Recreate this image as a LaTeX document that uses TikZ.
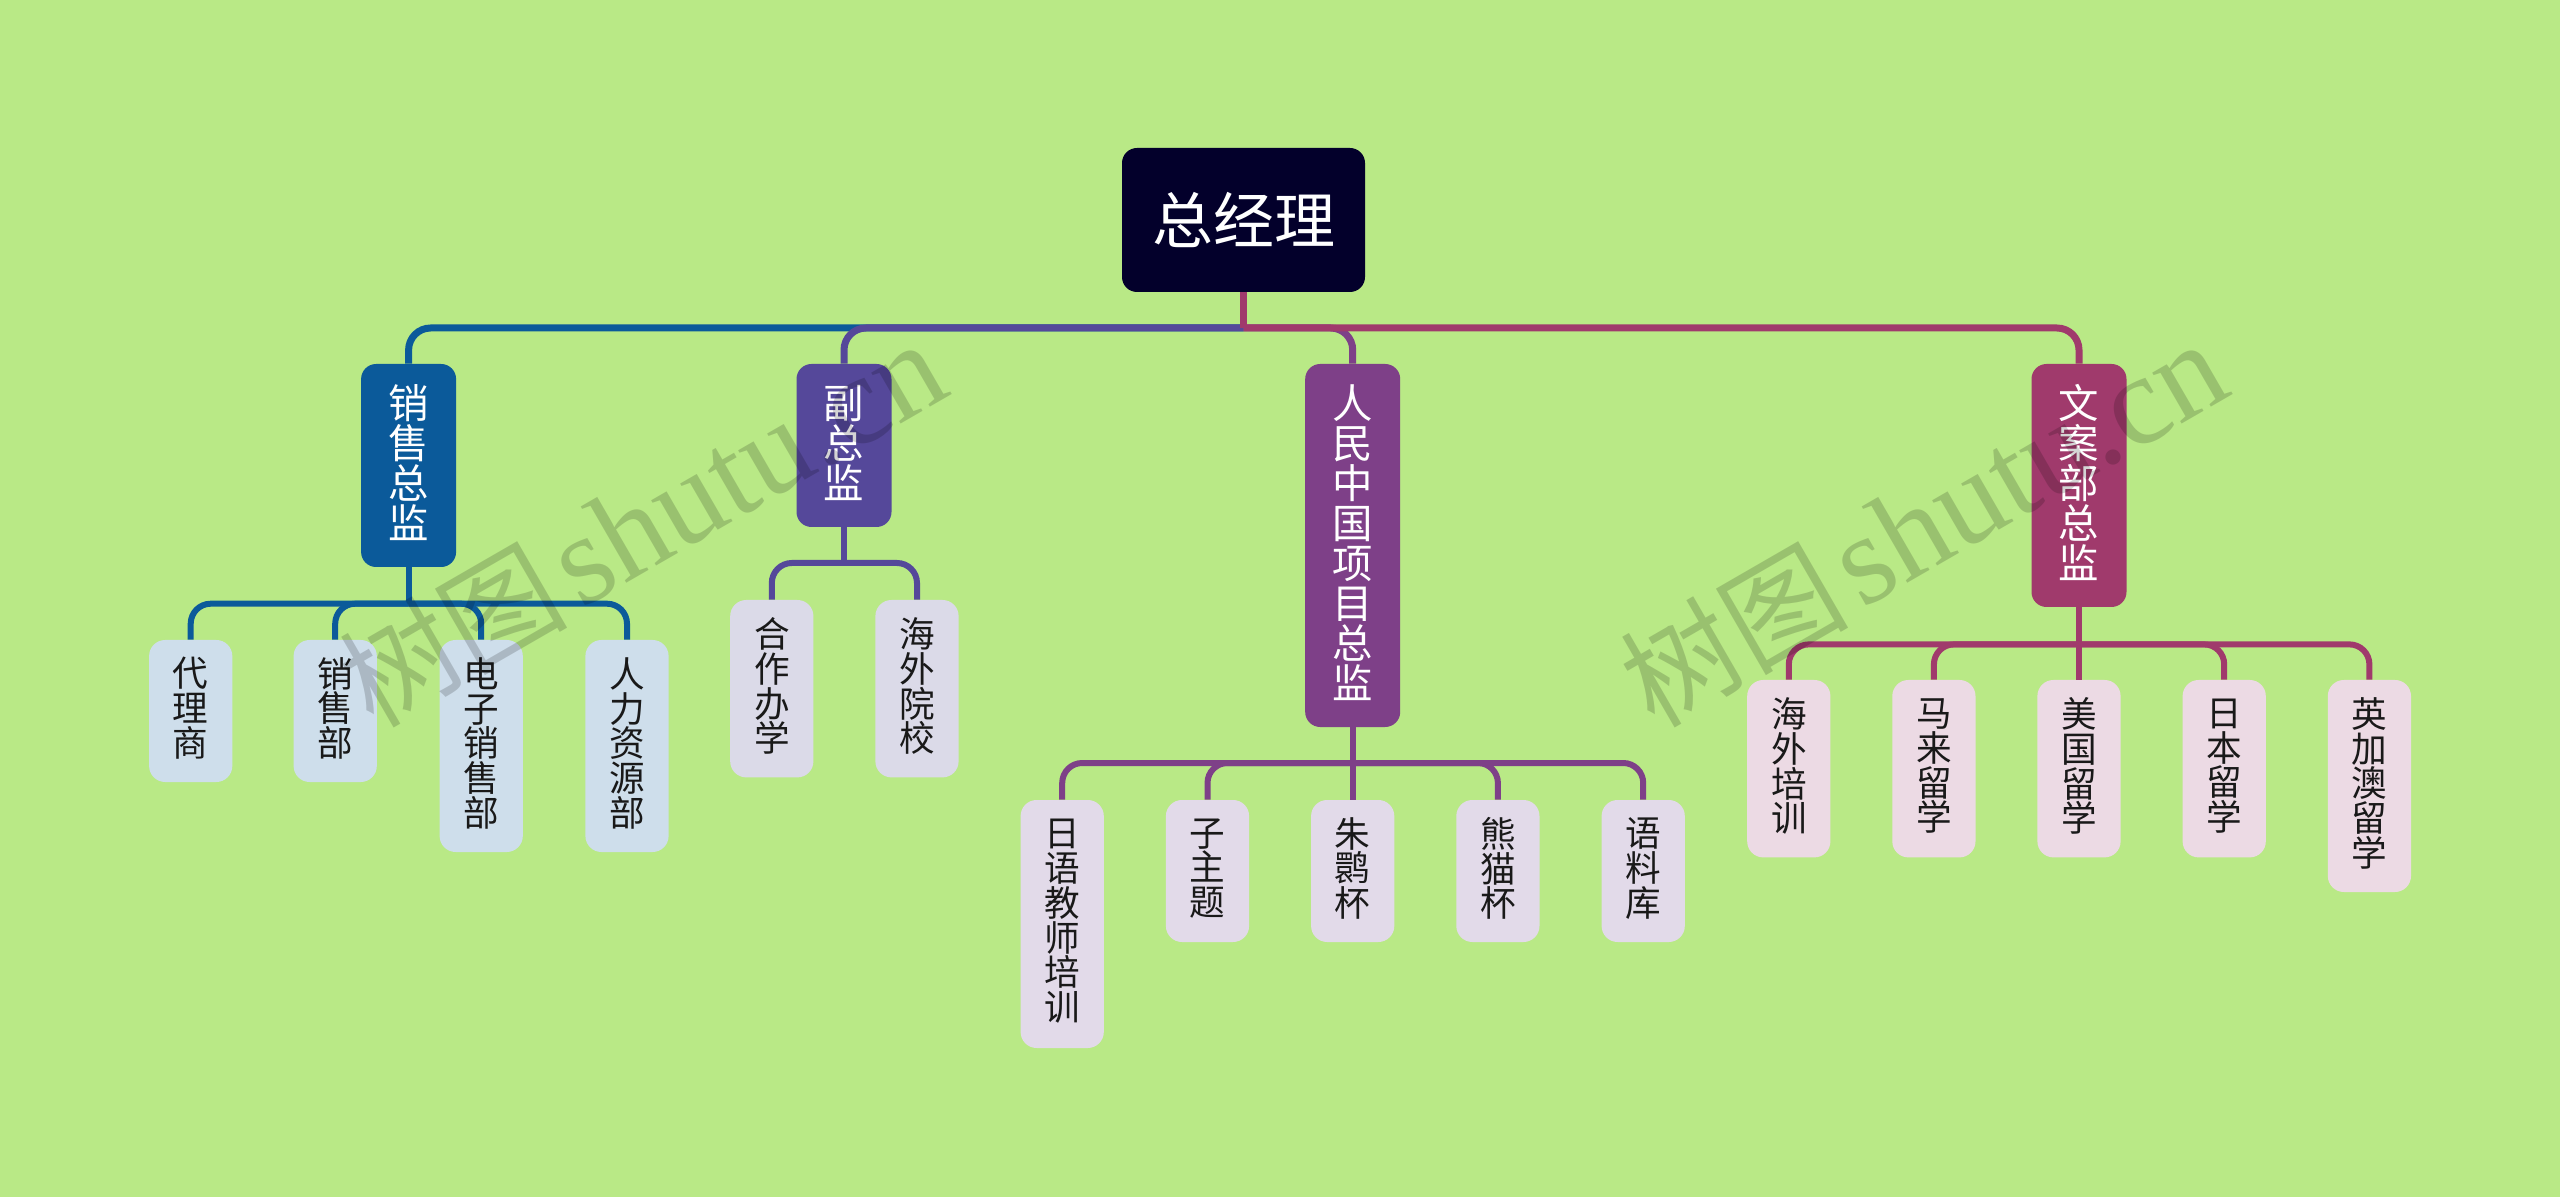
\documentclass[tikz,border=0pt]{standalone}
\usepackage{fontspec}
\setmainfont{Noto Sans CJK SC}
\newfontfamily\wmcjk{Noto Sans CJK SC}
\newfontfamily\wmlat{Liberation Serif}
\definecolor{bgc}{HTML}{B9E986}
\definecolor{rootc}{HTML}{03002B}
\definecolor{salesc}{HTML}{0B5A9A}
\definecolor{depc}{HTML}{55489A}
\definecolor{peoc}{HTML}{7E4088}
\definecolor{mktc}{HTML}{A03A6C}
\definecolor{salesk}{HTML}{CEDEEB}
\definecolor{depk}{HTML}{DBDAE8}
\definecolor{peok}{HTML}{E2DAE9}
\definecolor{mktk}{HTML}{ECDAE4}
\tikzset{
  rootbox/.style={fill=rootc,text=white,rounded corners=7.5pt,minimum width=121.5pt,minimum height=72pt,inner sep=0pt,font=\fontsize{30.5}{31}\selectfont},
  mgr/.style={text=white,rounded corners=7.5pt,minimum width=47.5pt,inner sep=0pt,align=center,text depth=3.7pt,font=\fontsize{20.2}{20}\selectfont},
  kid/.style={text=black!90,rounded corners=8pt,minimum width=41.6pt,inner sep=0pt,align=center,text depth=4pt,font=\fontsize{17.8}{17.4}\selectfont},
  trunk/.style={line width=3.5pt,rounded corners=11pt},
  twig/.style={line width=3pt,rounded corners=10pt},
  wm/.style={rotate=30,text=black,text opacity=.17,inner sep=0pt}
}
\begin{document}
\begin{tikzpicture}[x=0.5pt,y=-0.5pt]
\fill[bgc] (0,0) rectangle (2560,1197);
\useasboundingbox (0,0) rectangle (2560,1197);
% nodes
\node[rootbox] (root) at (1243.5,220) {总经理};
\node[mgr,fill=salesc,minimum height=101.5pt] (sales) at (408.6,465.5) {销\\售\\总\\监};
\node[mgr,fill=depc,minimum height=81.5pt] (dep) at (844,445.5) {副\\总\\监};
\node[mgr,fill=peoc,minimum height=181.5pt] (peo) at (1352.7,545.5) {人\\民\\中\\国\\项\\目\\总\\监};
\node[mgr,fill=mktc,minimum height=121.5pt] (mkt) at (2079,485.5) {文\\案\\部\\总\\监};
% sales children
\node[kid,fill=salesk,minimum height=71pt] (s1) at (190.7,711) {代\\理\\商};
\node[kid,fill=salesk,minimum height=71pt] (s2) at (335.2,711) {销\\售\\部};
\node[kid,fill=salesk,minimum height=106pt] (s3) at (481.2,746) {电\\子\\销\\售\\部};
\node[kid,fill=salesk,minimum height=106pt] (s4) at (627,746) {人\\力\\资\\源\\部};
% deputy children
\node[kid,fill=depk,minimum height=88.7pt] (d1) at (771.8,688.7) {合\\作\\办\\学};
\node[kid,fill=depk,minimum height=88.7pt] (d2) at (917,688.7) {海\\外\\院\\校};
% people children
\node[kid,fill=peok,minimum height=124pt] (p1) at (1062.2,924) {日\\语\\教\\师\\培\\训};
\node[kid,fill=peok,minimum height=71pt] (p2) at (1207.5,871) {子\\主\\题};
\node[kid,fill=peok,minimum height=71pt] (p3) at (1352.7,871) {朱\\鹮\\杯};
\node[kid,fill=peok,minimum height=71pt] (p4) at (1497.9,871) {熊\\猫\\杯};
\node[kid,fill=peok,minimum height=71pt] (p5) at (1643.2,871) {语\\料\\库};
% marketing children
\node[kid,fill=mktk,minimum height=88.7pt] (m1) at (1788.8,768.7) {海\\外\\培\\训};
\node[kid,fill=mktk,minimum height=88.7pt] (m2) at (1933.9,768.7) {马\\来\\留\\学};
\node[kid,fill=mktk,minimum height=88.7pt] (m3) at (2079,768.7) {美\\国\\留\\学};
\node[kid,fill=mktk,minimum height=88.7pt] (m4) at (2224.2,768.7) {日\\本\\留\\学};
\node[kid,fill=mktk,minimum height=106pt] (m5) at (2369.4,786) {英\\加\\澳\\留\\学};
% junctions
\coordinate (hub) at (1243.5,328);
\coordinate (hs) at (408.6,603.7);
\coordinate (hd) at (844,563);
\coordinate (hp) at (1352.7,763);
\coordinate (hm) at (2079,644.4);
% top connectors
\draw[trunk,salesc] (hub) -| (sales.north);
\draw[trunk,depc] (hub) -| (dep.north);
\draw[trunk,peoc] (hub) -| (peo.north);
\draw[trunk,mktc] (hub) -| (mkt.north);
\draw[line width=3.5pt,mktc] (root.south) -- (hub);
% sales
\draw[twig,salesc] (sales.south) -- (hs);
\foreach \k in {s1,s2,s3,s4} \draw[twig,salesc] (hs) -| (\k.north);
% deputy
\draw[twig,depc] (dep.south) -- (hd);
\foreach \k in {d1,d2} \draw[twig,depc] (hd) -| (\k.north);
% people
\draw[twig,peoc] (peo.south) -- (hp);
\foreach \k in {p1,p2,p4,p5} \draw[twig,peoc] (hp) -| (\k.north);
\draw[twig,peoc] (hp) -- (p3.north);
% marketing
\draw[twig,mktc] (mkt.south) -- (hm);
\foreach \k in {m1,m2,m4,m5} \draw[twig,mktc] (hm) -| (\k.north);
\draw[twig,mktc] (hm) -- (m3.north);
% watermarks
\node[wm] (w1) at (642,524) {{\wmcjk\fontsize{57}{57}\selectfont 树图}\hspace{6pt}{\wmlat\fontsize{64}{64}\selectfont shutu.cn}};
\node[wm] (w2) at (1923,524) {{\wmcjk\fontsize{57}{57}\selectfont 树图}\hspace{6pt}{\wmlat\fontsize{64}{64}\selectfont shutu.cn}};
\end{tikzpicture}
\end{document}
